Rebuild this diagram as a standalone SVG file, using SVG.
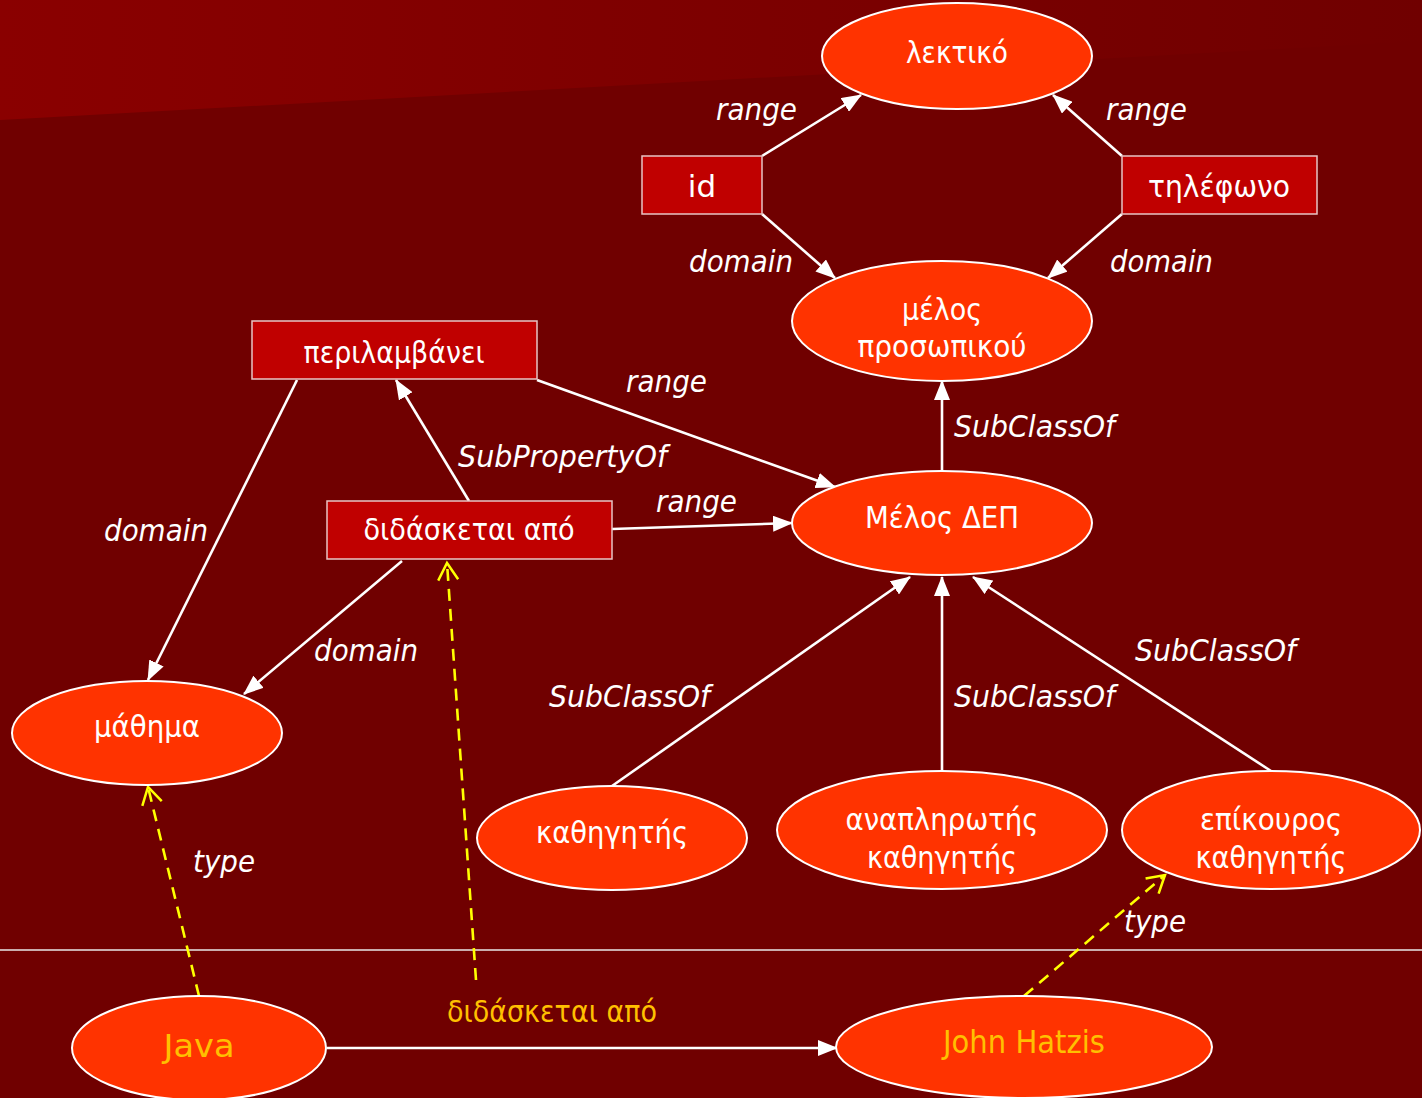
<svg xmlns="http://www.w3.org/2000/svg" width="1422" height="1098" viewBox="0 0 1422 1098">
<defs>
<linearGradient id="band" x1="0" y1="0" x2="1422" y2="0" gradientUnits="userSpaceOnUse">
<stop offset="0" stop-color="#8a0000"/>
<stop offset="1" stop-color="#700000"/>
</linearGradient>
<marker id="ah" markerUnits="userSpaceOnUse" viewBox="0 0 20 16" markerWidth="20" markerHeight="16" refX="19" refY="8" orient="auto">
<path d="M0,0 L20,8 L0,16 z" fill="#ffffff"/>
</marker>
<marker id="ya" markerUnits="userSpaceOnUse" viewBox="0 0 22 24" markerWidth="22" markerHeight="24" refX="19" refY="12" orient="auto">
<path d="M2,2 L19,12 L2,22" fill="none" stroke="#ffff00" stroke-width="2.5"/>
</marker>
<style>
.cls{fill:#ff3300;stroke:#ffffff;stroke-width:2}
.prop{fill:#c00000;stroke:#e8c4c4;stroke-width:1.5}
.nt{font-family:"DejaVu Sans","Noto Sans",sans-serif;font-size:31px;fill:#ffffff;text-anchor:middle}
.it{font-family:"DejaVu Sans","Noto Sans",sans-serif;font-size:31px;font-style:italic;fill:#ffffff}
.inst{font-family:"DejaVu Sans","Noto Sans",sans-serif;font-size:32px;fill:#ffc000;text-anchor:middle}
.edge{stroke:#ffffff;stroke-width:2.6;fill:none;marker-end:url(#ah)}
.dash{stroke:#ffff00;stroke-width:2.6;fill:none;stroke-dasharray:12,8;marker-end:url(#ya)}
</style>
</defs>
<rect x="0" y="0" width="1422" height="1098" fill="#700000"/>
<polygon points="0,0 1422,0 1422,41 0,120" fill="url(#band)"/>
<line x1="0" y1="950" x2="1422" y2="950" stroke="#e8e8e8" stroke-width="1.5"/>

<g id="connectors">
<path class="edge" d="M762,156 L861,95"/>
<path class="edge" d="M762,214 L835,278"/>
<path class="edge" d="M1122,156 L1053,95"/>
<path class="edge" d="M1122,214 L1048,278"/>
<path class="edge" d="M942,471 L942,381"/>
<path class="edge" d="M537,380 L835,487"/>
<path class="edge" d="M612,529 L792,523"/>
<path class="edge" d="M469,501 L396,380"/>
<path class="edge" d="M297,380 L148,680"/>
<path class="edge" d="M402,561 L244,694"/>
<path class="edge" d="M612,786 L910,577"/>
<path class="edge" d="M942,771 L942,577"/>
<path class="edge" d="M1271,771 L973,577"/>
<path class="edge" d="M327,1048 L837,1048"/>
<path class="dash" d="M199,996 L148,787"/>
<path class="dash" d="M476,980 L447,563"/>
<path class="dash" d="M1024,996 L1165,875"/>
<text class="it" x="716" y="120" textLength="81" lengthAdjust="spacingAndGlyphs">range</text>
<text class="it" x="1106" y="120" textLength="81" lengthAdjust="spacingAndGlyphs">range</text>
<text class="it" x="689" y="272" textLength="104" lengthAdjust="spacingAndGlyphs">domain</text>
<text class="it" x="1110" y="272" textLength="103" lengthAdjust="spacingAndGlyphs">domain</text>
<text class="it" x="626" y="392" textLength="81" lengthAdjust="spacingAndGlyphs">range</text>
<text class="it" x="954" y="437" textLength="161" lengthAdjust="spacingAndGlyphs">SubClassOf</text>
<text class="it" x="458" y="467" textLength="209" lengthAdjust="spacingAndGlyphs">SubPropertyOf</text>
<text class="it" x="656" y="512" textLength="81" lengthAdjust="spacingAndGlyphs">range</text>
<text class="it" x="104" y="541" textLength="104" lengthAdjust="spacingAndGlyphs">domain</text>
<text class="it" x="314" y="661" textLength="104" lengthAdjust="spacingAndGlyphs">domain</text>
<text class="it" x="1135" y="661" textLength="161" lengthAdjust="spacingAndGlyphs">SubClassOf</text>
<text class="it" x="549" y="707" textLength="161" lengthAdjust="spacingAndGlyphs">SubClassOf</text>
<text class="it" x="954" y="707" textLength="161" lengthAdjust="spacingAndGlyphs">SubClassOf</text>
<text class="it" x="193" y="872" textLength="62" lengthAdjust="spacingAndGlyphs">type</text>
<text class="it" x="1124" y="932" textLength="62" lengthAdjust="spacingAndGlyphs">type</text>
<text x="447" y="1022" font-family="DejaVu Sans, Noto Sans, sans-serif" font-size="31" fill="#ffc000" textLength="210" lengthAdjust="spacingAndGlyphs">διδάσκεται από</text>
</g>

<g id="lektiko">
<ellipse class="cls" cx="957" cy="56" rx="135" ry="53"/>
<text class="nt" x="957" y="63" textLength="102" lengthAdjust="spacingAndGlyphs">λεκτικό</text>
</g>
<g id="id">
<rect class="prop" x="642" y="156" width="120" height="58"/>
<text class="nt" x="702" y="197">id</text>
</g>
<g id="tilefono">
<rect class="prop" x="1122" y="156" width="195" height="58"/>
<text class="nt" x="1219" y="197" textLength="142" lengthAdjust="spacingAndGlyphs">τηλέφωνο</text>
</g>
<g id="melos-prosopikou">
<ellipse class="cls" cx="942" cy="321" rx="150" ry="60"/>
<text class="nt" x="942" y="320" textLength="80" lengthAdjust="spacingAndGlyphs">μέλος</text>
<text class="nt" x="942" y="357" textLength="169" lengthAdjust="spacingAndGlyphs">προσωπικού</text>
</g>
<g id="perilamvanei">
<rect class="prop" x="252" y="321" width="285" height="58"/>
<text class="nt" x="394" y="363" textLength="181" lengthAdjust="spacingAndGlyphs">περιλαμβάνει</text>
</g>
<g id="didasketai">
<rect class="prop" x="327" y="501" width="285" height="58"/>
<text class="nt" x="469" y="540" textLength="211" lengthAdjust="spacingAndGlyphs">διδάσκεται από</text>
</g>
<g id="melos-dep">
<ellipse class="cls" cx="942" cy="523" rx="150" ry="52"/>
<text class="nt" x="942" y="528" textLength="154" lengthAdjust="spacingAndGlyphs">Μέλος ΔΕΠ</text>
</g>
<g id="mathima">
<ellipse class="cls" cx="147" cy="733" rx="135" ry="52"/>
<text class="nt" x="147" y="737" textLength="106" lengthAdjust="spacingAndGlyphs">μάθημα</text>
</g>
<g id="kathigitis">
<ellipse class="cls" cx="612" cy="838" rx="135" ry="52"/>
<text class="nt" x="612" y="843" textLength="152" lengthAdjust="spacingAndGlyphs">καθηγητής</text>
</g>
<g id="anaplirotis">
<ellipse class="cls" cx="942" cy="830" rx="165" ry="59"/>
<text class="nt" x="942" y="830" textLength="193" lengthAdjust="spacingAndGlyphs">αναπληρωτής</text>
<text class="nt" x="942" y="868" textLength="150" lengthAdjust="spacingAndGlyphs">καθηγητής</text>
</g>
<g id="epikouros">
<ellipse class="cls" cx="1271" cy="830" rx="149" ry="59"/>
<text class="nt" x="1271" y="830" textLength="142" lengthAdjust="spacingAndGlyphs">επίκουρος</text>
<text class="nt" x="1271" y="868" textLength="151" lengthAdjust="spacingAndGlyphs">καθηγητής</text>
</g>
<g id="java">
<ellipse class="cls" cx="199" cy="1048" rx="127" ry="52"/>
<text class="inst" x="199" y="1057" font-size="36" textLength="71" lengthAdjust="spacingAndGlyphs">Java</text>
</g>
<g id="john">
<ellipse class="cls" cx="1024" cy="1047" rx="188" ry="51"/>
<text class="inst" x="1024" y="1053" textLength="162" lengthAdjust="spacingAndGlyphs">John Hatzis</text>
</g>
</svg>
